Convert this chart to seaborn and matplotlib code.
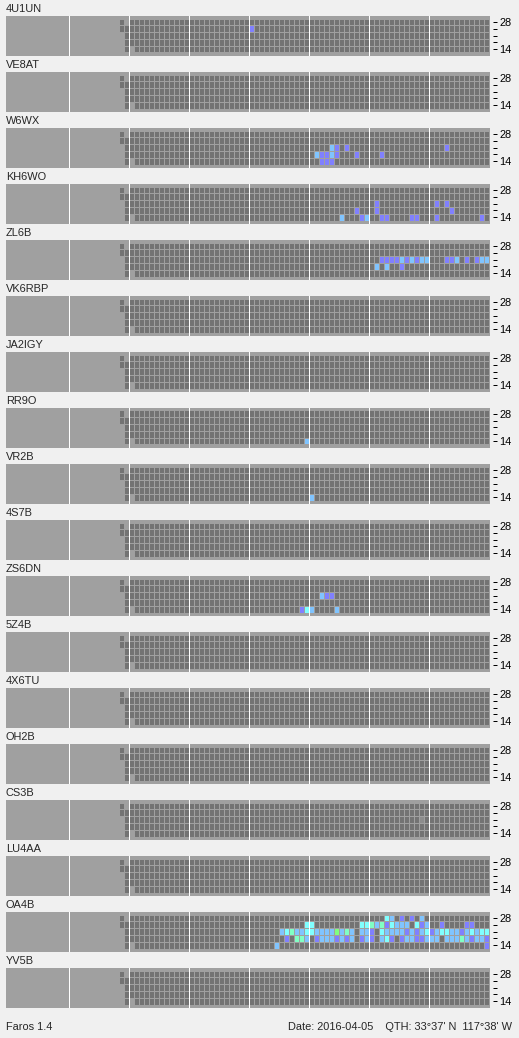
import numpy as np
import matplotlib
matplotlib.use("Agg")
import matplotlib.pyplot as plt
from matplotlib.colors import ListedColormap
import seaborn as sns

# beacons, top to bottom
beacons = ["4U1UN", "VE8AT", "W6WX", "KH6WO", "ZL6B", "VK6RBP", "JA2IGY", "RR9O",
           "VR2B", "4S7B", "ZS6DN", "5Z4B", "4X6TU", "OH2B", "CS3B", "LU4AA",
           "OA4B", "YV5B"]
band_labels = ["28", "", "", "", "14"]
n_slots = 74
hour_marks = [-10, 2, 14, 26, 38, 50, 62]

# signal levels: 1 blue, 2 light blue, 3 cyan, 4 mint, 5 green, 6 grey
level_colors = ["#737373", "#8080ff", "#80c4ff", "#80ffff", "#80ffc4", "#80ff80", "#8c8c8c"]

# slots that are not on the grid yet (left edge stagger): (row, slot)
missing = [(2, 0), (3, 0), (4, 0), (0, 1), (4, 2)]

# heard signals per beacon: (row, slot, level)
hits_4u1un = [(1, 26, 1)]
hits_w6wx = [(2, 42, 2), (2, 43, 1), (2, 45, 1), (2, 65, 1),
             (3, 39, 2), (3, 40, 1), (3, 41, 1), (3, 42, 2), (3, 43, 1), (3, 47, 1), (3, 52, 1),
             (4, 40, 1), (4, 41, 1), (4, 42, 1)]
hits_kh6wo = [(2, 51, 1), (2, 63, 1), (2, 65, 1),
              (3, 47, 1), (3, 51, 1), (3, 66, 1),
              (4, 44, 2), (4, 48, 1), (4, 49, 2), (4, 52, 1), (4, 53, 1), (4, 58, 1),
              (4, 59, 1), (4, 63, 1), (4, 72, 1)]
hits_zl6b = [(2, 52, 1), (2, 53, 1), (2, 54, 1), (2, 55, 1), (2, 56, 2), (2, 57, 1), (2, 58, 2),
             (2, 59, 1), (2, 60, 2), (2, 61, 2), (2, 65, 1), (2, 66, 1), (2, 67, 2), (2, 69, 1),
             (2, 71, 1), (2, 72, 2), (2, 73, 2),
             (3, 51, 2), (3, 53, 2), (3, 56, 1)]
hits_rr9o = [(4, 37, 2)]
hits_vr2b = [(4, 38, 2)]
hits_zs6dn = [(2, 40, 2), (2, 41, 1), (2, 42, 1),
              (4, 36, 1), (4, 37, 3), (4, 38, 2), (4, 43, 2)]
hits_cs3b = [(2, 60, 6)]
hits_oa4b = [(0, 53, 3), (0, 54, 2), (0, 56, 1), (0, 58, 1), (0, 60, 2),
             (1, 37, 3), (1, 38, 3), (1, 48, 3), (1, 49, 3), (1, 50, 4), (1, 51, 2), (1, 52, 4),
             (1, 53, 1), (1, 54, 3), (1, 55, 2), (1, 56, 2), (1, 57, 2), (1, 59, 3), (1, 60, 1),
             (1, 61, 2), (1, 64, 1), (1, 69, 1), (1, 70, 1),
             (2, 32, 2), (2, 33, 3), (2, 34, 4), (2, 35, 2), (2, 36, 2), (2, 37, 3), (2, 38, 3),
             (2, 39, 2), (2, 40, 2), (2, 41, 2), (2, 42, 2), (2, 43, 5), (2, 44, 2), (2, 45, 4),
             (2, 46, 2), (2, 48, 2), (2, 49, 2), (2, 50, 1), (2, 52, 3), (2, 53, 2), (2, 54, 2),
             (2, 55, 2), (2, 56, 2), (2, 57, 1), (2, 58, 2), (2, 59, 1), (2, 60, 2), (2, 61, 3),
             (2, 62, 1), (2, 63, 2), (2, 64, 3), (2, 65, 3), (2, 66, 2), (2, 67, 2), (2, 68, 1),
             (2, 69, 2), (2, 70, 3), (2, 71, 2), (2, 72, 3), (2, 73, 3),
             (3, 33, 1), (3, 35, 4), (3, 36, 4), (3, 37, 2), (3, 39, 1), (3, 40, 2), (3, 41, 2),
             (3, 42, 2), (3, 43, 1), (3, 44, 2), (3, 45, 1), (3, 46, 2), (3, 48, 1), (3, 49, 2),
             (3, 50, 1), (3, 52, 2), (3, 53, 3), (3, 54, 1), (3, 56, 1), (3, 57, 2), (3, 58, 2),
             (3, 59, 1), (3, 60, 1), (3, 61, 2), (3, 62, 2), (3, 63, 2), (3, 65, 2), (3, 66, 2),
             (3, 67, 2), (3, 68, 4), (3, 69, 2), (3, 70, 1), (3, 71, 2), (3, 72, 2), (3, 73, 1),
             (4, 31, 2), (4, 73, 1)]

hits = {"4U1UN": hits_4u1un, "W6WX": hits_w6wx, "KH6WO": hits_kh6wo, "ZL6B": hits_zl6b,
        "RR9O": hits_rr9o, "VR2B": hits_vr2b, "ZS6DN": hits_zs6dn, "CS3B": hits_cs3b,
        "OA4B": hits_oa4b}

sns.set_style("white")
plt.rcParams["font.family"] = ["Liberation Sans", "DejaVu Sans"]
plt.rcParams["font.size"] = 7.9

W, H = 519, 1038
fig = plt.figure(figsize=(W / 100, H / 100), dpi=100, facecolor="#f0f0f0")
cmap = ListedColormap(level_colors)
px = 0.72  # one pixel in points

mask = np.zeros((5, n_slots), dtype=bool)
for r, c in missing:
    mask[r, c] = True

for i, name in enumerate(beacons):
    top = 16 + 56 * i
    grid = np.zeros((5, n_slots))
    for r, c, lev in hits.get(name, []):
        grid[r, c] = lev

    ax = fig.add_axes([6 / W, 1 - (top + 40) / H, 484 / W, 40 / H])
    ax.set_facecolor("#a0a0a0")
    sns.heatmap(grid, mask=mask, cmap=cmap, vmin=-0.5, vmax=6.5, cbar=False,
                linewidths=px, linecolor="#a0a0a0", ax=ax)
    ax.collections[0].set_antialiased(False)
    for h in hour_marks:
        ax.axvline(h, color="white", lw=px, antialiased=False)
    ax.set_xlim(-22.5, 74.3)
    ax.set_ylim((40 - 2.5) / 6.8, -2.5 / 6.8)
    ax.set_xticks([])
    ax.yaxis.tick_right()
    ax.set_yticks(np.arange(5) + 0.5, band_labels, rotation=0)
    ax.tick_params(axis="y", right=True, left=False, length=4 * px, width=px,
                   pad=2 * px, colors="black", labelsize=7.9)
    for s in ax.spines.values():
        s.set_visible(False)
    ax.spines["right"].set_position(("outward", 3 * px))

    fig.text(6 / W, 1 - (top - 3.5) / H, name, va="baseline", ha="left", fontsize=7.9)

fig.text(6 / W, 1 - 1030 / H, "Faros 1.4", va="baseline", ha="left", fontsize=7.9)
fig.text(512 / W, 1 - 1030 / H, "Date: 2016-04-05    QTH: 33°37' N  117°38' W",
         va="baseline", ha="right", fontsize=7.9)

fig.savefig("out.png", dpi=100, facecolor=fig.get_facecolor())
